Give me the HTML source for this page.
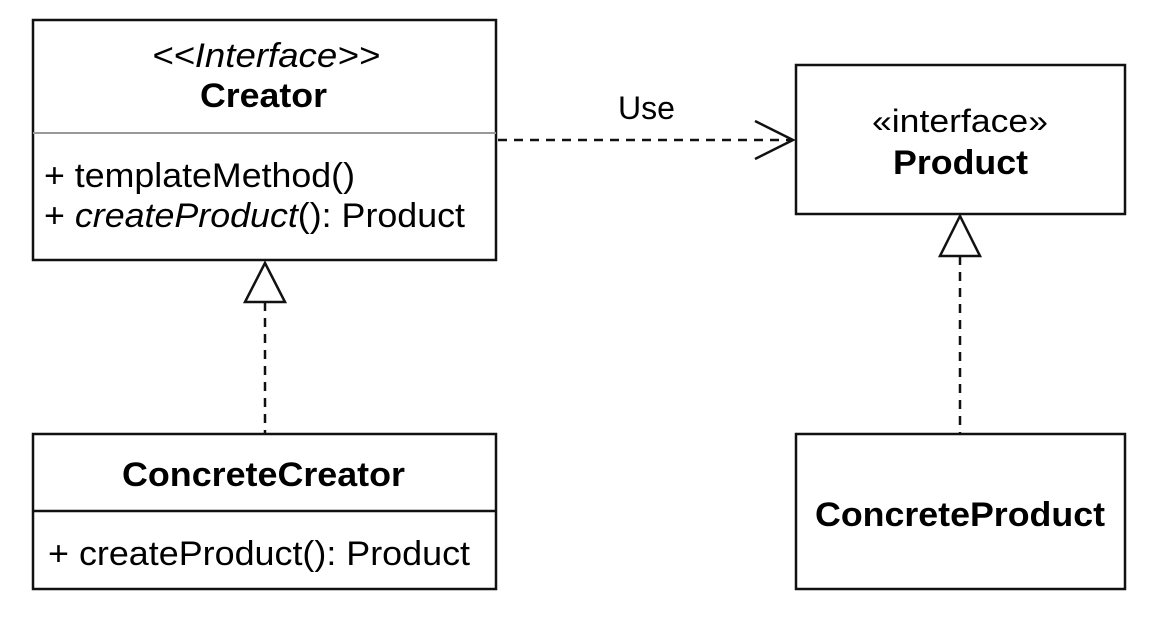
<!DOCTYPE html>
<html><head><style>
html,body{margin:0;padding:0;background:#fff;}
svg{display:block;}
text{font-family:"Liberation Sans",Arial,sans-serif;fill:#000;}
</style></head><body>
<svg width="1156" height="622" viewBox="0 0 1156 622" xmlns="http://www.w3.org/2000/svg">
<g fill="none" stroke="#111" stroke-width="2.5">
<rect x="33" y="20" width="463" height="240"/>
<rect x="33" y="434" width="463" height="155"/>
<line x1="33" y1="511" x2="496" y2="511"/>
<rect x="796" y="65" width="329" height="149"/>
<rect x="796" y="434" width="329" height="155"/>
</g>
<line x1="33" y1="133" x2="496" y2="133" stroke="#999" stroke-width="2"/>
<g fill="none" stroke="#111" stroke-width="2.5" stroke-dasharray="9,7">
<line x1="498" y1="140" x2="790" y2="140"/>
<line x1="265" y1="302" x2="265" y2="433"/>
<line x1="960" y1="256" x2="960" y2="433"/>
</g>
<g fill="#fff" stroke="#111" stroke-width="2.5">
<polygon points="265,263 245,302 285,302"/>
<polygon points="960,216 940,256 980,256"/>
</g>
<polyline points="755,121 793,140 755,159" fill="none" stroke="#111" stroke-width="2.5"/>
<g font-size="34" lengthAdjust="spacingAndGlyphs">
<text x="152" y="67" font-style="italic" textLength="228" lengthAdjust="spacingAndGlyphs">&lt;&lt;Interface&gt;&gt;</text>
<text x="200" y="107" font-weight="bold" textLength="127" lengthAdjust="spacingAndGlyphs">Creator</text>
<text x="44" y="187" textLength="311" lengthAdjust="spacingAndGlyphs">+ templateMethod()</text>
<text x="44" y="227" textLength="421" lengthAdjust="spacingAndGlyphs">+ <tspan font-style="italic">createProduct</tspan>(): Product</text>
<text x="122" y="486" font-weight="bold" textLength="283" lengthAdjust="spacingAndGlyphs">ConcreteCreator</text>
<text x="48" y="565" textLength="422" lengthAdjust="spacingAndGlyphs">+ createProduct(): Product</text>
<text x="618" y="119" textLength="57" lengthAdjust="spacingAndGlyphs" font-size="32">Use</text>
<text x="872" y="132" textLength="176" lengthAdjust="spacingAndGlyphs" font-size="32">«interface»</text>
<text x="893" y="174" font-weight="bold" textLength="135" lengthAdjust="spacingAndGlyphs">Product</text>
<text x="815" y="526" font-weight="bold" textLength="290" lengthAdjust="spacingAndGlyphs">ConcreteProduct</text>
</g>
</svg>
</body></html>
